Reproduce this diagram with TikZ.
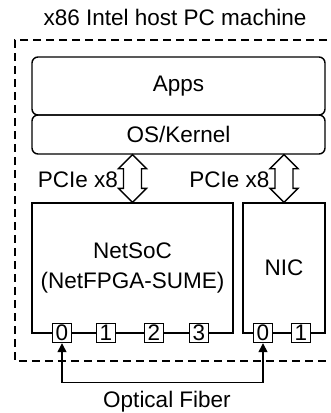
\documentclass[tikz,border=0pt]{standalone}
\usepackage{fontspec}
\setmainfont{Liberation Sans}
\usetikzlibrary{calc,arrows.meta}
\tikzset{%
  layer/.style={draw,rounded corners=6pt,minimum width=293pt,inner sep=0},
  board/.style={draw,minimum height=130pt,inner sep=0,align=center},
  port/.style={draw,fill=white,minimum size=19pt,inner sep=0},
  hostframe/.style={draw,dash pattern=on 8pt off 5pt},
  fiber/.style={{Triangle[length=9pt,width=9pt]}-{Triangle[length=9pt,width=9pt]}},
  bus/.style={draw,line join=miter},
  buslabel/.style={anchor=east,inner sep=1pt}
}
% double arrow between two coordinates, #1 on top, #2 below
\newcommand{\busarrow}[2]{%
  \draw[bus] (#1) -- ++(-14,14) -- ++(5,0) -- ($(#2)+(-9,-14)$) -- ++(-5,0)
    -- (#2) -- ++(14,-14) -- ++(-5,0) -- ($(#1)+(9,14)$) -- ++(5,0) -- cycle;}

\begin{document}
\begin{tikzpicture}[x=1pt,y=-1pt,line width=1.4pt,
    every node/.style={font=\fontsize{22.5}{30}\selectfont}]
  \useasboundingbox (0,0) rectangle (331,413);

  \node (host) at (175,17) {x86 Intel host PC machine};
  \draw[hostframe] (340,40) -| (15,361) -- (340,361);

  \node[layer,minimum height=58pt] (apps) at (178.5,86) {Apps};
  \node[layer,minimum height=39pt] (os) at (178.5,134.5) {OS/Kernel};

  \node[board,minimum width=201pt] (netsoc) at (132.5,268) {NetSoC\\(NetFPGA-SUME)};
  \node[board,minimum width=82pt] (nic) at (284,268) {NIC};

  \path[every node/.append style={port}]
    (62,333) node (p0){0}
    (106,333) node (p1){1}
    (154,333) node (p2){2}
    (199,333) node (p3){3}
    (263,333) node (n0){0}
    (301,333) node (n1){1};

  \coordinate (bus1) at (os.south -| netsoc.north);
  \coordinate (bus2) at (os.south -| nic.north);
  \busarrow{bus1}{netsoc.north}
  \busarrow{bus2}{nic.north}
  \node[buslabel] (pcie1) at ($(bus1)!0.5!(netsoc.north)+(-13,1)$) {PCIe x8};
  \node[buslabel] (pcie2) at ($(bus2)!0.5!(nic.north)+(-13,1)$) {PCIe x8};

  \draw[fiber] (p0.south) -- ++(0,39.5) -| (n0.south);
  \node (optic) at (167,402) {Optical Fiber};
\end{tikzpicture}
\end{document}
